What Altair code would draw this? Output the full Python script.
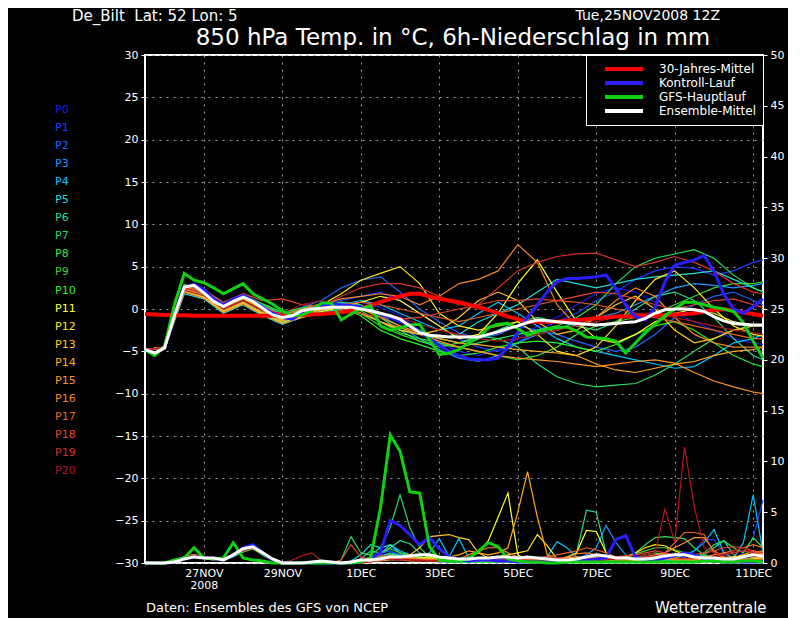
import altair as alt
import pandas as pd

FONT = "DejaVu Sans"

# ---------------- time axes ----------------
hours6 = list(range(0, 379, 6))                 # 6-hourly steps, 25NOV2008 12Z + h
hours12 = list(range(0, 373, 12)) + [378]       # 12-hourly steps for members (temperature)

xtick_hours = [36, 84, 132, 180, 228, 276, 324, 372]
xtick_labels = ["27NOV", "29NOV", "1DEC", "3DEC", "5DEC", "7DEC", "9DEC", "11DEC"]

members = [f"P{i}" for i in range(21)]
member_colors = ["#1a1ae6", "#1e3cff", "#1e64ff", "#1e96ff", "#00c0ff", "#20dcdc",
                 "#28dc8c", "#28dc64", "#28e650", "#3cd232", "#28f028", "#ffff28",
                 "#ffe61e", "#ffc81e", "#ffaa1e", "#ff9628", "#f08228", "#e6641e",
                 "#e6462d", "#d2322d", "#b4141e"]

series_names = ["30-Jahres-Mittel", "Kontroll-Lauf", "GFS-Hauptlauf", "Ensemble-Mittel"]
series_colors = ["#ff0000", "#2a1eff", "#10d010", "#ffffff"]

# ---------------- 850 hPa temperature (deg C) ----------------
clim_temp = [-0.6, -0.65, -0.7, -0.75, -0.75, -0.8, -0.8, -0.8,
             -0.8, -0.8, -0.8, -0.8, -0.8, -0.8, -0.8, -0.75,
             -0.7, -0.65, -0.6, -0.5, -0.4, -0.2, 0.1, 0.4,
             0.8, 1.2, 1.5, 1.8, 1.8, 1.5, 1.2, 1.0,
             0.8, 0.5, 0.2, -0.1, -0.5, -0.9, -1.2, -1.5,
             -1.5, -1.5, -1.5, -1.4, -1.3, -1.2, -1.1, -1.0,
             -0.9, -0.9, -0.85, -0.8, -0.8, -0.7, -0.65, -0.6,
             -0.5, -0.3, -0.1, 0.0, -0.2, -0.4, -0.6, -0.8]
ctrl_temp = [-4.8, -5.3, -4.6, -0.5, 2.6, 2.9, 2.3, 1.2,
             0.5, 1.2, 1.6, 1.0, 0.2, -0.5, -1.0, -1.2,
             -0.5, 0.0, 0.4, 0.6, 0.5, 0.4, 0.2, -0.2,
             -0.6, -1.0, -1.5, -2.0, -2.7, -3.5, -4.3, -5.0,
             -5.5, -5.9, -6.0, -6.0, -5.8, -4.5, -2.8, -1.0,
             0.5, 2.0, 3.2, 3.6, 3.6, 3.7, 3.8, 4.0,
             2.4, 0.5, -0.9, -1.3, 0.2, 3.2, 5.2, 5.5,
             5.8, 6.3, 4.5, 1.8, 0.0, -0.5, 0.3, 1.2]
gfs_temp = [-4.8, -5.5, -4.4, 0.5, 4.2, 3.4, 3.1, 2.5,
            1.8, 2.4, 3.0, 1.8, 1.2, 0.6, -0.2, -0.8,
            -0.7, -0.2, 0.7, 0.7, -1.3, -0.6, 0.0, 0.4,
            -2.0, -2.5, -2.2, -1.9, -1.8, -3.6, -5.4, -5.2,
            -4.8, -4.0, -3.4, -2.2, -1.8, -1.7, -2.3, -3.1,
            -2.7, -2.4, -2.2, -2.1, -2.6, -3.3, -3.4, -3.5,
            -3.8, -5.2, -4.0, -2.8, -1.8, -0.8, 0.0, 0.8,
            0.8, 0.5, 0.2, 0.0, -0.3, -1.6, -3.8, -5.8]
mean_temp = [-4.8, -5.2, -4.6, -0.8, 2.6, 2.8, 1.9, 0.9,
             0.3, 0.9, 1.4, 0.9, 0.1, -0.7, -1.0, -0.8,
             -0.2, 0.0, 0.1, 0.2, 0.2, 0.2, 0.0, -0.2,
             -0.5, -0.8, -1.2, -2.0, -2.8, -3.1, -3.2, -3.3,
             -3.3, -3.3, -3.3, -3.0, -2.7, -2.3, -2.0, -1.6,
             -1.3, -1.4, -1.5, -1.6, -1.7, -1.8, -1.9, -1.8,
             -1.7, -1.6, -1.5, -1.1, -0.5, -0.1, 0.0, 0.0,
             -0.1, -0.3, -0.9, -1.4, -1.7, -1.8, -1.9, -1.9]

temp_members = [
    [-4.8, -4.7, 2.4, 1.8, 0.2, 1.2, 0.0, -1.1, -0.4, 0.3, 0.6, 0.8, 0.2, -0.8, -2.5, -4.0, -5.0, -5.5, -4.8, -3.5, -2.0, -1.0, 0.5, 1.8, 2.5, 2.0, 0.8, -0.5, -1.5, -2.5, -3.5, -4.0, -4.2],
    [-4.8, -4.6, 2.6, 2.0, 0.4, 1.4, 0.3, -0.8, -0.2, 0.5, 1.0, 1.5, 2.0, 1.0, -0.5, -2.0, -3.5, -4.5, -5.0, -4.0, -2.5, -1.5, -0.5, 1.0, 2.0, 3.5, 4.5, 5.0, 4.8, 4.0, 4.5, 5.5, 5.8],
    [-4.8, -4.6, 2.8, 2.2, 0.5, 1.6, 0.5, -0.5, 0.2, 1.0, 2.5, 3.4, 3.8, 2.0, 0.0, -1.5, -2.8, -3.5, -3.0, -2.0, -2.5, -3.0, -3.8, -4.5, -5.0, -4.5, -3.0, -1.0, 0.5, 1.5, 2.0, 1.0, 0.5],
    [-4.8, -4.5, 2.3, 1.6, 0.0, 1.0, -0.2, -1.3, -0.6, 0.0, 0.4, 0.2, -0.8, -2.0, -3.5, -4.8, -5.8, -6.2, -5.5, -4.0, -3.0, -2.5, -1.5, -1.0, -0.5, 0.5, 1.5, 2.5, 3.0, 2.8, 2.5, 2.8, 3.0],
    [-4.8, -4.6, 2.2, 1.5, -0.2, 0.8, -0.5, -1.5, -0.8, -0.2, 0.5, 1.0, 0.5, -0.5, -1.5, -2.5, -2.0, -0.5, 0.8, -0.5, -2.0, -3.5, -4.5, -5.0, -5.5, -6.0, -6.5, -7.0, -6.8, -5.5, -4.0, -3.5, -3.0],
    [-4.8, -4.7, 1.8, 1.2, -0.5, 0.5, -0.8, -1.8, -1.0, -0.4, 0.0, -0.5, -1.5, -2.5, -3.0, -3.5, -3.0, -1.5, -0.5, 0.5, 2.0, 3.5, 3.0, 2.5, 3.0, 3.5, 3.8, 4.0, 4.2, 4.5, 3.5, 2.5, 2.0],
    [-4.8, -4.5, 2.5, 1.9, 0.3, 1.3, 0.1, -1.0, -0.3, 0.3, 0.8, 0.5, -0.5, -1.5, -2.5, -3.5, -4.0, -3.5, -2.5, -1.5, -1.0, -1.5, -2.0, -2.5, -1.5, 0.0, 1.5, 2.0, 1.0, -1.0, -3.5, -5.5, -6.0],
    [-4.8, -4.6, 2.7, 2.1, 0.6, 1.5, 0.4, -0.6, -0.1, 0.5, 0.7, 0.3, -1.0, -2.5, -3.8, -4.5, -4.0, -3.2, -3.5, -4.5, -6.5, -8.0, -8.8, -9.2, -9.0, -8.8, -7.8, -6.5, -5.0, -3.5, -2.5, -2.0, -1.8],
    [-4.8, -4.5, 2.6, 2.0, 0.4, 1.4, 0.2, -0.9, -0.2, 0.4, 0.6, -0.2, -1.5, -2.8, -3.5, -4.0, -4.5, -4.0, -3.5, -3.0, -2.5, -2.0, -1.0, 0.5, 3.0, 5.0, 6.0, 6.5, 7.0, 6.0, 4.0, 2.5, 2.0],
    [-4.8, -4.6, 2.4, 1.7, 0.1, 1.1, -0.1, -1.2, -0.5, 0.1, 0.3, -0.5, -2.0, -3.0, -3.8, -4.2, -4.5, -5.0, -5.5, -6.0, -5.5, -4.5, -3.0, -2.0, -1.5, -1.0, -0.5, 0.5, 1.5, 2.5, 3.0, 3.0, 3.2],
    [-4.8, -4.6, 2.9, 2.3, 0.7, 1.7, 0.6, -0.4, 0.1, 0.6, 0.3, -0.8, -2.5, -3.5, -4.2, -5.0, -5.5, -5.2, -4.5, -4.0, -3.8, -4.0, -4.5, -5.0, -4.2, -3.0, -2.0, -1.5, -2.5, -4.0, -5.5, -6.5, -6.8],
    [-4.8, -4.5, 2.1, 1.4, -0.3, 0.7, -0.6, -1.6, -0.9, -0.3, 0.2, 0.8, 1.5, 1.0, -0.5, -2.0, -3.5, -3.0, -0.5, 3.0, 5.8, 2.0, -1.5, -3.5, -4.0, -3.0, -1.5, -0.5, 0.0, -0.5, -1.5, -2.0, -2.0],
    [-4.8, -4.6, 2.5, 1.8, 0.2, 1.2, 0.0, -1.0, -0.3, 0.5, 1.8, 3.4, 4.2, 5.0, 3.0, -0.5, -2.0, -2.5, -2.0, -1.5, -3.0, -5.0, -5.5, -4.5, -2.0, 1.0, 3.5, 4.5, 2.5, 0.0, -2.0, -3.0, -3.2],
    [-4.8, -4.5, 2.3, 1.6, 0.0, 1.0, -0.2, -1.3, -0.6, 0.0, 0.2, -0.5, -1.5, -2.5, -3.0, -2.5, -1.0, 1.0, 2.0, 1.0, -1.5, -3.0, -2.5, -1.0, 0.5, 1.5, 0.0, -2.5, -4.0, -3.5, -2.5, -2.0, -1.8],
    [-4.8, -4.6, 2.2, 1.5, -0.2, 0.8, -0.4, -1.4, -0.7, -0.1, 0.4, 0.0, -1.0, -2.0, -2.8, -3.5, -4.0, -4.2, -4.5, -4.8, -5.0, -5.2, -5.5, -6.5, -7.2, -7.5, -7.0, -6.5, -6.2, -5.5, -5.0, -4.8, -4.5],
    [-4.8, -4.5, 2.0, 1.3, -0.4, 0.6, -0.7, -1.7, -1.0, -0.5, -0.2, -0.5, -1.5, -2.2, -3.0, -3.8, -4.5, -5.0, -5.5, -5.8, -6.0, -6.2, -6.5, -6.8, -6.5, -6.2, -6.0, -6.4, -7.5, -8.5, -9.2, -9.8, -10.0],
    [-4.8, -4.6, 2.6, 2.0, 0.5, 1.5, 0.3, -0.7, 0.0, 0.5, 1.2, 1.5, 1.8, 1.5, 0.5, 1.5, 3.0, 3.5, 4.5, 7.6, 5.5, 0.5, -2.0, -1.0, 1.0, 2.5, 1.5, -1.0, -3.0, -4.0, -4.5, -4.5, -4.5],
    [-4.8, -4.5, 2.4, 1.8, 0.1, 1.1, -0.1, -1.1, -0.4, 0.2, 0.5, 0.8, 0.5, 0.0, -0.5, -1.0, -1.5, -1.0, -0.5, 0.0, 0.5, 1.0, 0.8, 0.5, 0.0, -0.5, -1.0, -1.5, -2.0, -2.5, -3.0, -3.5, -3.5],
    [-4.8, -4.6, 2.7, 2.2, 0.8, 1.8, 1.0, 1.2, 0.5, 0.3, 0.0, -0.5, -1.0, -1.2, -1.0, -0.5, 0.0, 0.5, 1.0, 1.0, 1.2, 1.0, 1.5, 2.0, 1.8, 1.2, 0.5, 0.0, 0.5, 1.0, 1.2, 0.5, 0.2],
    [-4.8, -4.5, 2.5, 1.9, 0.3, 1.3, 0.2, -0.9, -0.3, 0.3, 1.5, 2.5, 3.0, 3.0, 2.5, 1.5, 0.5, 0.5, 2.5, 4.5, 5.5, 6.2, 6.5, 6.6, 5.8, 5.0, 5.5, 6.2, 5.5, 4.5, 3.0, 2.0, 1.8],
    [-4.8, -4.6, 2.2, 1.6, 0.0, 1.0, -0.2, -0.5, 0.5, 1.0, 0.5, 0.0, -0.5, -1.0, -1.8, -2.5, -3.0, -3.5, -3.8, -3.5, -3.0, -2.5, -2.0, -1.5, -1.0, -0.5, -0.5, -1.0, -1.5, -2.0, -2.5, -2.8, -3.0],
]

# ---------------- 6h precipitation (mm) ----------------
ctrl_prec = [0, 0, 0, 0.1, 0.4, 0.6, 0.6, 0.4,
             0.3, 0.8, 1.5, 1.8, 1.0, 0.3, 0, 0,
             0, 0, 0, 0, 0, 0, 0.1, 0.5,
             1.0, 4.2, 3.7, 2.8, 1.8, 2.5, 1.4, 0.6,
             0.3, 0.2, 0.3, 0.3, 0.2, 0.2, 0.1, 0.1,
             0.1, 0.1, 0.1, 0.1, 0.2, 0.3, 0.4, 0.5,
             2.3, 2.7, 0.6, 0.2, 0.3, 0.5, 0.7, 1.0,
             0.8, 0.4, 0.2, 0.1, 0.1, 0.1, 0.1, 0.1]
gfs_prec = [0, 0, 0, 0.3, 0.5, 1.5, 0.5, 0.4,
            0.5, 2.0, 0.5, 0.3, 0.2, 0, 0, 0,
            0, 0, 0, 0, 0, 0, 0.1, 0.5,
            5.4, 12.6, 11.0, 7.0, 6.9, 1.6, 0.3, 0.2,
            0.2, 0.4, 1.2, 2.0, 1.6, 0.4, 0.2, 0.1,
            0.1, 0, 0, 0.1, 0.1, 0.1, 0.1, 0.1,
            0.1, 0.1, 0.1, 0.1, 0.1, 0.1, 0.1, 0.1,
            0.1, 0.2, 0.2, 0.1, 0.1, 0.2, 0.2, 0.1]
mean_prec = [0, 0, 0, 0.1, 0.4, 0.6, 0.5, 0.5,
             0.3, 0.8, 1.4, 1.6, 1.0, 0.4, 0, 0,
             0, 0.1, 0.2, 0.1, 0, 0.1, 0.3, 0.3,
             0.4, 0.6, 0.6, 0.7, 0.8, 0.8, 0.6, 0.5,
             0.4, 0.4, 0.5, 0.5, 0.6, 0.6, 0.5, 0.6,
             0.5, 0.4, 0.3, 0.3, 0.4, 0.6, 0.8, 0.7,
             0.5, 0.5, 0.4, 0.4, 0.5, 0.7, 0.8, 0.8,
             0.6, 0.5, 0.5, 0.4, 0.4, 0.6, 0.8, 0.7]

prec_members = [
    [0, 0, 0, 0.2, 0.5, 0.7, 0.6, 0.4, 0.3, 0.7, 1.2, 1.5, 0.8, 0.2, 0, 0, 0, 0, 0, 0, 0, 0, 0.1, 0.3, 0.8, 1.5, 1.0, 0.6, 0.4, 0.3, 0.2, 0.1, 0.1, 0.2, 0.3, 0.5, 0.4, 0.3, 0.2, 0.1, 0.1, 0.1, 0.2, 0.3, 0.5, 0.8, 0.6, 0.4, 0.3, 0.2, 0.2, 0.3, 0.6, 1.0, 0.8, 0.5, 0.3, 0.2, 0.1, 0.1, 0.2, 0.3, 0.5, 0.4],
    [0, 0, 0, 0.1, 0.4, 0.6, 0.5, 0.3, 0.3, 0.8, 1.3, 1.7, 0.9, 0.3, 0, 0, 0, 0, 0, 0, 0, 0, 0, 0.2, 0.5, 0.8, 0.6, 0.4, 0.3, 0.2, 0.1, 0.1, 0.1, 0.1, 0.2, 0.2, 0.1, 0.1, 0.1, 0.1, 0.1, 0.2, 0.3, 0.2, 0.1, 0.2, 0.5, 0.4, 0.3, 0.2, 0.3, 0.5, 0.6, 0.3, 0.2, 0.5, 1.2, 2.3, 2.3, 1.0, 0.3, 1.0, 2.5, 6.2],
    [0, 0, 0, 0.2, 0.6, 0.8, 0.6, 0.4, 0.4, 0.9, 1.4, 1.6, 1.0, 0.4, 0, 0, 0, 0, 0, 0, 0, 0.1, 0.2, 0.6, 1.0, 1.2, 0.8, 0.7, 0.5, 0.4, 0.3, 0.2, 0.2, 0.3, 0.2, 0.1, 0.1, 0.1, 0.1, 0.1, 0.1, 0.1, 0.1, 0.2, 0.2, 0.2, 0.3, 0.3, 0.4, 0.3, 0.3, 0.3, 0.3, 0.2, 0.2, 0.3, 0.4, 0.3, 0.2, 0.2, 0.2, 0.3, 0.5, 0.6],
    [0, 0, 0, 0.1, 0.5, 0.7, 0.5, 0.3, 0.3, 0.7, 1.2, 1.5, 0.8, 0.3, 0, 0, 0, 0, 0, 0, 0, 0, 0.1, 0.4, 0.7, 1.0, 0.8, 0.6, 0.4, 0.3, 0.2, 0.2, 0.2, 0.2, 0.3, 0.3, 0.2, 0.2, 0.2, 0.2, 0.2, 0.2, 0.3, 0.3, 0.4, 0.8, 1.5, 3.7, 2.0, 0.8, 0.4, 0.3, 0.3, 0.2, 0.2, 0.3, 0.3, 0.3, 0.4, 0.3, 0.3, 0.4, 0.5, 0.6],
    [0, 0, 0, 0.1, 0.5, 0.7, 0.6, 0.4, 0.3, 0.6, 1.1, 1.4, 0.8, 0.3, 0, 0, 0, 0, 0, 0, 0, 0, 0.1, 0.4, 0.9, 1.8, 1.2, 0.8, 0.6, 1.0, 2.4, 0.6, 2.4, 0.5, 0.3, 0.2, 0.3, 0.2, 0.1, 0.1, 0.2, 0.6, 2.1, 1.5, 0.6, 0.4, 0.3, 0.3, 0.2, 0.2, 0.3, 0.4, 0.3, 0.4, 0.5, 0.8, 1.2, 2.0, 3.3, 1.0, 0.5, 2.0, 6.7, 1.0],
    [0, 0, 0, 0.2, 0.5, 0.7, 0.5, 0.3, 0.3, 0.7, 1.2, 1.5, 0.9, 0.3, 0, 0, 0, 0, 0, 0, 0, 0.2, 0.8, 1.8, 1.5, 1.8, 1.0, 0.7, 0.5, 0.4, 0.3, 0.2, 0.2, 0.2, 0.1, 0.1, 0.1, 0.2, 0.2, 0.2, 0.2, 0.2, 0.3, 0.2, 0.2, 0.3, 0.4, 0.5, 0.4, 0.3, 0.2, 0.3, 0.4, 0.5, 0.4, 0.3, 0.3, 0.4, 0.3, 0.2, 0.2, 0.3, 0.5, 0.4],
    [0, 0, 0, 0.2, 0.6, 0.8, 0.6, 0.4, 0.3, 0.8, 1.3, 1.6, 0.9, 0.3, 0, 0, 0, 0, 0, 0, 0, 0.1, 0.4, 1.2, 1.0, 1.5, 2.2, 1.9, 1.0, 0.5, 0.3, 0.2, 0.2, 0.3, 0.2, 0.2, 0.1, 0.1, 0.1, 0.2, 0.2, 0.2, 0.3, 0.6, 1.0, 5.2, 5.0, 1.0, 0.4, 0.3, 0.2, 0.3, 0.4, 0.3, 0.3, 0.4, 0.5, 0.8, 1.5, 2.2, 0.8, 0.3, 0.3, 0.2],
    [0, 0, 0, 0.1, 0.4, 0.6, 0.5, 0.3, 0.3, 0.7, 1.2, 1.5, 0.8, 0.3, 0, 0, 0, 0, 0, 0, 0.3, 2.6, 1.0, 0.8, 1.5, 3.5, 6.7, 3.5, 1.5, 0.6, 0.3, 0.2, 0.2, 0.1, 0.1, 0.1, 0.1, 0.2, 0.2, 0.1, 0.1, 0.1, 0.2, 0.2, 0.2, 0.3, 0.3, 0.4, 0.3, 0.5, 1.0, 1.8, 2.5, 2.6, 2.5, 2.4, 1.5, 0.8, 0.5, 0.4, 0.3, 0.3, 0.2, 0.2],
    [0, 0, 0, 0.2, 0.5, 0.7, 0.6, 0.4, 0.4, 0.8, 1.3, 1.6, 0.9, 0.3, 0, 0, 0, 0, 0, 0, 0, 0, 0.1, 0.3, 0.6, 0.9, 0.7, 0.5, 0.4, 0.3, 0.2, 0.2, 0.1, 0.1, 0.1, 0.2, 0.2, 0.1, 0.1, 0.1, 0.1, 0.1, 0.1, 0.2, 0.3, 0.4, 0.3, 0.2, 0.2, 0.3, 0.5, 0.8, 1.0, 0.8, 0.5, 0.4, 0.5, 1.0, 1.8, 2.2, 1.5, 1.0, 2.5, 1.5],
    [0, 0, 0, 0.1, 0.4, 0.6, 0.5, 0.3, 0.3, 0.7, 1.1, 1.4, 0.8, 0.3, 0, 0, 0, 0, 0, 0, 0, 0, 0.2, 0.6, 1.0, 1.4, 1.0, 0.8, 0.6, 0.4, 0.3, 0.2, 0.2, 0.2, 0.1, 0.1, 0.1, 0.1, 0.1, 0.1, 0.1, 0.2, 0.2, 0.1, 0.1, 0.2, 0.2, 0.2, 0.3, 0.5, 0.9, 1.2, 1.5, 1.5, 1.3, 1.0, 0.8, 0.6, 0.4, 0.3, 0.3, 0.2, 0.2, 0.2],
    [0, 0, 0, 0.2, 0.6, 0.8, 0.6, 0.4, 0.3, 0.8, 1.2, 1.5, 0.9, 0.3, 0, 0, 0, 0, 0, 0, 0, 0, 0, 0.2, 0.4, 0.6, 0.5, 0.4, 0.3, 0.2, 0.2, 0.1, 0.1, 0.1, 0.1, 0.1, 0.1, 0.1, 0.1, 0.1, 0.1, 0.1, 0.1, 0.1, 0.1, 0.1, 0.2, 0.2, 0.2, 0.1, 0.1, 0.1, 0.2, 0.2, 0.1, 0.1, 0.1, 0.1, 0.1, 0.1, 0.2, 0.2, 0.3, 0.3],
    [0, 0, 0, 0.1, 0.5, 0.7, 0.6, 0.4, 0.3, 0.7, 1.2, 1.5, 0.9, 0.3, 0, 0, 0, 0, 0, 0, 0, 0, 0.1, 0.2, 0.4, 0.6, 0.5, 0.4, 0.5, 0.6, 0.5, 0.4, 0.3, 0.5, 1.0, 2.2, 4.5, 6.9, 0.8, 0.3, 0.3, 0.3, 0.4, 0.5, 1.0, 3.2, 3.1, 1.0, 0.5, 0.4, 0.3, 0.4, 0.6, 0.7, 0.5, 0.4, 0.3, 0.3, 0.4, 0.5, 0.6, 0.7, 0.8, 1.0],
    [0, 0, 0, 0.2, 0.6, 0.8, 0.6, 0.4, 0.4, 0.8, 1.3, 1.7, 1.0, 0.3, 0, 0, 0, 0, 0, 0, 0, 0, 0.1, 0.3, 0.5, 0.7, 0.6, 0.5, 0.4, 0.4, 0.3, 0.3, 0.2, 0.3, 0.3, 0.4, 0.6, 0.8, 1.0, 1.2, 2.8, 1.7, 0.4, 0.3, 0.3, 0.4, 0.5, 0.4, 0.4, 0.6, 1.0, 1.5, 1.8, 1.7, 1.2, 0.8, 0.6, 0.5, 0.4, 0.4, 0.5, 0.8, 1.2, 1.0],
    [0, 0, 0, 0.1, 0.5, 0.7, 0.5, 0.3, 0.3, 0.7, 1.2, 1.5, 0.9, 0.3, 0, 0, 0, 0, 0, 0, 0, 0, 0.1, 0.2, 0.3, 0.5, 0.6, 0.8, 1.5, 2.6, 2.7, 2.8, 2.5, 2.3, 1.0, 0.5, 0.3, 0.3, 0.2, 0.2, 0.2, 0.2, 0.3, 0.3, 0.4, 0.5, 0.6, 0.5, 0.4, 0.3, 0.3, 0.4, 0.5, 0.4, 0.3, 0.3, 0.3, 0.4, 0.5, 0.4, 0.3, 0.3, 0.4, 0.5],
    [0, 0, 0, 0.2, 0.6, 0.8, 0.6, 0.4, 0.4, 0.8, 1.3, 1.7, 1.0, 0.3, 0, 0, 0, 0, 0, 0, 0, 0, 0.1, 0.3, 0.4, 0.5, 0.4, 0.3, 0.3, 0.4, 0.5, 0.6, 0.8, 1.2, 1.0, 0.8, 1.0, 1.5, 5.0, 9.0, 4.5, 0.8, 0.4, 0.3, 0.3, 0.4, 0.5, 0.4, 0.3, 0.3, 0.2, 0.3, 0.4, 0.5, 0.4, 0.3, 0.3, 0.3, 0.4, 0.4, 0.3, 0.3, 0.5, 0.6],
    [0, 0, 0, 0.1, 0.5, 0.7, 0.5, 0.3, 0.3, 0.7, 1.2, 1.6, 0.9, 0.3, 0, 0, 0, 0, 0, 0, 0, 0, 0, 0.1, 0.2, 0.3, 0.3, 0.2, 0.2, 0.3, 0.3, 0.2, 0.2, 0.2, 0.3, 0.4, 0.5, 0.6, 0.5, 0.4, 0.3, 0.3, 0.4, 0.5, 0.6, 0.5, 0.4, 0.3, 0.3, 0.3, 0.4, 0.6, 0.8, 1.0, 1.5, 2.0, 2.5, 2.5, 1.2, 0.6, 0.5, 0.6, 1.0, 1.2],
    [0, 0, 0, 0.2, 0.6, 0.8, 0.6, 0.4, 0.4, 0.9, 1.4, 1.8, 1.0, 0.3, 0, 0, 0, 0, 0, 0, 0, 0, 0.1, 0.2, 0.3, 0.4, 0.5, 0.5, 0.4, 0.3, 0.3, 0.3, 0.4, 0.8, 1.2, 1.5, 1.5, 1.0, 0.6, 0.4, 0.3, 0.3, 0.4, 0.6, 0.9, 1.0, 0.8, 0.5, 0.4, 0.3, 0.3, 0.4, 0.5, 0.4, 0.3, 0.4, 0.5, 0.6, 0.8, 1.0, 1.2, 1.5, 1.8, 1.5],
    [0, 0, 0, 0.1, 0.5, 0.7, 0.5, 0.3, 0.3, 0.7, 1.2, 1.5, 0.9, 0.3, 0, 0, 0, 0, 0, 0, 0, 0, 0.1, 0.3, 0.5, 0.6, 0.5, 0.4, 0.3, 0.3, 0.2, 0.2, 0.2, 0.2, 0.3, 0.3, 0.2, 0.2, 0.3, 0.4, 0.5, 0.6, 0.8, 1.0, 1.2, 1.5, 1.3, 1.0, 0.6, 0.4, 0.3, 0.3, 0.5, 1.0, 2.0, 3.0, 3.0, 2.8, 1.0, 0.5, 0.4, 0.4, 0.3, 0.3],
    [0, 0, 0, 0.2, 0.6, 0.8, 0.6, 0.4, 0.4, 0.8, 1.3, 1.7, 1.0, 0.3, 0, 0, 0, 0, 0, 0, 0.3, 1.8, 0.6, 0.3, 0.8, 0.5, 0.4, 0.3, 0.3, 0.2, 0.2, 0.2, 0.2, 0.3, 0.3, 0.2, 0.2, 0.2, 0.3, 0.4, 0.5, 0.6, 0.5, 0.4, 0.3, 0.3, 0.4, 0.5, 0.6, 0.7, 0.8, 1.0, 1.2, 1.0, 0.8, 0.7, 0.8, 1.0, 1.2, 1.5, 1.6, 1.5, 1.2, 1.0],
    [0, 0, 0, 0.1, 0.5, 0.7, 0.5, 0.3, 0.3, 0.7, 1.2, 1.5, 0.9, 0.3, 0, 0, 0, 0, 0, 0, 0, 0, 0.1, 0.3, 0.4, 0.5, 0.4, 0.3, 0.3, 0.2, 0.2, 0.2, 0.2, 0.3, 0.3, 0.4, 0.3, 0.3, 0.2, 0.2, 0.3, 0.4, 0.5, 0.4, 0.3, 0.3, 0.4, 0.4, 0.3, 0.3, 0.4, 0.6, 0.7, 0.6, 0.5, 0.4, 0.4, 0.5, 0.6, 0.8, 1.0, 1.2, 1.0, 0.8],
    [0, 0, 0, 0.1, 0.5, 0.7, 0.5, 0.3, 0.3, 0.7, 1.2, 1.5, 0.9, 0.3, 0, 0.3, 0.7, 1.0, 0.2, 0, 0, 0, 0, 0.1, 0.3, 0.4, 0.3, 0.3, 0.2, 0.2, 0.2, 0.2, 0.2, 0.2, 0.2, 0.3, 0.3, 0.2, 0.2, 0.2, 0.2, 0.2, 0.3, 0.3, 0.2, 0.2, 0.2, 0.3, 0.4, 0.5, 0.6, 0.8, 1.0, 5.3, 2.1, 11.4, 5.5, 1.5, 1.0, 0.8, 1.2, 1.5, 1.0, 0.8],
]

for arr in [clim_temp, ctrl_temp, gfs_temp, mean_temp, ctrl_prec, gfs_prec, mean_prec] + prec_members:
    assert len(arr) == len(hours6), len(arr)
for arr in temp_members:
    assert len(arr) == len(hours12), len(arr)

# ---------------- tables ----------------
tm_rows = [{"member": m, "hour": h, "temp": v}
           for m, vals in zip(members, temp_members) for h, v in zip(hours12, vals)]
temp_mem_df = pd.DataFrame(tm_rows)

pm_rows = [{"member": m, "hour": h, "mm": v}
           for m, vals in zip(members, prec_members) for h, v in zip(hours6, vals)]
prec_mem_df = pd.DataFrame(pm_rows)

main_temp_df = pd.DataFrame(
    [{"series": s, "hour": h, "temp": v}
     for s, vals in zip(series_names, [clim_temp, ctrl_temp, gfs_temp, mean_temp])
     for h, v in zip(hours6, vals)])
main_prec_df = pd.DataFrame(
    [{"series": s, "hour": h, "mm": v}
     for s, vals in zip(series_names[1:], [ctrl_prec, gfs_prec, mean_prec])
     for h, v in zip(hours6, vals)])

# ---------------- encodings ----------------
label_expr = "''"
for h, lab in reversed(list(zip(xtick_hours, xtick_labels))):
    txt = "['%s','2008']" % lab if h == 36 else "'%s'" % lab
    label_expr = f"datum.value == {h} ? {txt} : ({label_expr})"

GRID = "#a0a0a0"
x_enc = alt.X("hour:Q",
              scale=alt.Scale(domain=[0, 378], nice=False, zero=False),
              axis=alt.Axis(values=xtick_hours, labelExpr=label_expr, title=None,
                            grid=True, gridColor=GRID, gridDash=[2, 5], gridWidth=1,
                            ticks=False, domain=False, labelColor="white",
                            labelFont=FONT, labelFontSize=11, labelPadding=4,
                            labelLineHeight=12, labelFlush=False, labelOverlap=False))
y_temp = alt.Y("temp:Q",
               scale=alt.Scale(domain=[-30, 30], nice=False, zero=False),
               axis=alt.Axis(values=list(range(-30, 31, 5)), orient="left", title=None,
                             grid=True, gridColor=GRID, gridDash=[2, 5], gridWidth=1,
                             tickColor="white", tickSize=4, domain=False,
                             labelColor="white", labelFont=FONT, labelFontSize=11,
                             labelPadding=3))
y_mm = alt.Y("mm:Q",
             scale=alt.Scale(domain=[0, 50], nice=False, zero=True),
             axis=alt.Axis(values=list(range(0, 51, 5)), orient="right", title=None,
                           grid=False, tickColor="white", tickSize=4, domain=False,
                           labelColor="white", labelFont=FONT, labelFontSize=11,
                           labelPadding=3))

stroke_enc = alt.Stroke("member:N", scale=alt.Scale(domain=members, range=member_colors),
                        legend=None)
color_enc = alt.Color("series:N",
                      scale=alt.Scale(domain=series_names, range=series_colors),
                      legend=alt.Legend(title=None, orient="top-right", offset=0,
                                        fillColor="black", strokeColor="white",
                                        padding=7, symbolType="stroke", symbolSize=1444,
                                        symbolStrokeWidth=4, symbolOffset=10,
                                        labelOffset=14, labelColor="white",
                                        labelFont=FONT, labelFontSize=12,
                                        clipHeight=14, rowPadding=0))


def main_line(df, yenc, name, width):
    return (alt.Chart(df).transform_filter(alt.datum.series == name)
            .mark_line(strokeWidth=width)
            .encode(x=x_enc, y=yenc, color=color_enc))


temp_group = alt.layer(
    alt.Chart(temp_mem_df).mark_line(strokeWidth=1.2).encode(
        x=x_enc, y=y_temp, stroke=stroke_enc, detail="member:N"),
    main_line(main_temp_df, y_temp, "30-Jahres-Mittel", 4),
    main_line(main_temp_df, y_temp, "Kontroll-Lauf", 3),
    main_line(main_temp_df, y_temp, "GFS-Hauptlauf", 3),
    main_line(main_temp_df, y_temp, "Ensemble-Mittel", 3),
)

prec_group = alt.layer(
    alt.Chart(prec_mem_df).mark_line(strokeWidth=1.2).encode(
        x=x_enc, y=y_mm, stroke=stroke_enc, detail="member:N"),
    main_line(main_prec_df, y_mm, "Kontroll-Lauf", 3),
    main_line(main_prec_df, y_mm, "GFS-Hauptlauf", 3),
    main_line(main_prec_df, y_mm, "Ensemble-Mittel", 3),
)

ptext = alt.Chart(pd.DataFrame({"member": members})).mark_text(
    align="left", baseline="middle", font=FONT, fontSize=11).encode(
    x=alt.value(-90),
    y=alt.Y("member:N", sort=members, axis=None,
            scale=alt.Scale(domain=members, range=[55, 416], padding=0)),
    text="member:N",
    fill=alt.Fill("member:N", scale=alt.Scale(domain=members, range=member_colors),
                  legend=None))


def label(txt, x, y, size, align="left"):
    return alt.Chart(pd.DataFrame({"t": [txt]})).mark_text(
        align=align, baseline="alphabetic", font=FONT, fontSize=size, color="white"
    ).encode(text="t:N", x=alt.value(x), y=alt.value(y))


texts = [
    label("De_Bilt\u00a0\u00a0Lat: 52 Lon: 5", -73, -34, 15),
    label("850 hPa Temp. in °C, 6h-Niederschlag in mm", 308, -10, 23, "center"),
    label("Tue,25NOV2008 12Z", 575, -35, 14, "right"),
    label("Daten: Ensembles des GFS von NCEP", 1, 557, 13),
    label("Wetterzentrale", 510, 558, 15),
]

chart = alt.layer(temp_group, prec_group, ptext, *texts).resolve_scale(
    y="independent"
).properties(
    width=618, height=508,
    padding={"left": 137, "top": 47, "right": 25, "bottom": 55},
    autosize=alt.AutoSizeParams(type="none"),
    background="black",
).configure_view(stroke="white", strokeWidth=2)

chart.save("out.html", embed_options={"renderer": "svg", "actions": False})
